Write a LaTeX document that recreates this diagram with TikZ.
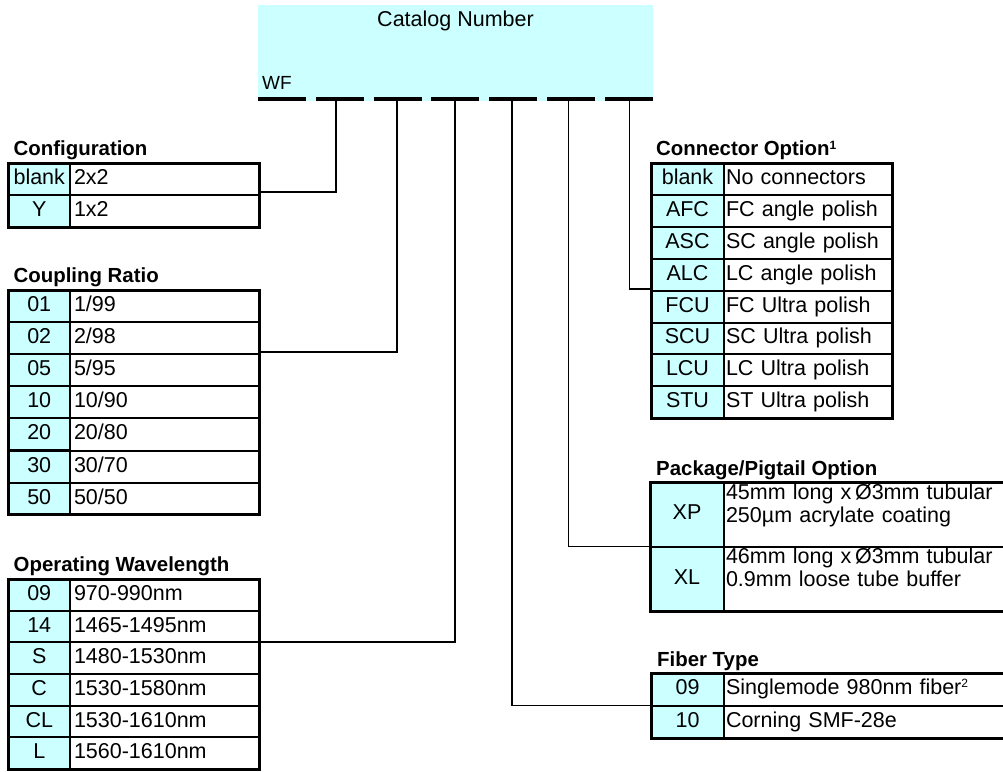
\documentclass[tikz,border=0pt]{standalone}
\usepackage{fontspec}
\setmainfont{Liberation Sans}
\definecolor{cellcyan}{HTML}{CCFFFF}

\begin{document}
\begin{tikzpicture}[x=1pt,y=-1pt,
  rowcell/.style={draw, line width=2pt, outer sep=0pt, inner ysep=0pt,
    minimum height=#1, text height=15.5pt, text depth=4.5pt, anchor=north west,
    font=\fontsize{21.5}{23}\selectfont},
  codecell/.style={rowcell=32pt, fill=cellcyan, inner xsep=0pt},
  desccell/.style={rowcell=32pt, fill=white, inner xsep=4pt, text width=#1, align=left},
  frame/.style={draw, line width=3pt},
  heading/.style={anchor=base west, inner sep=0pt, font=\bfseries\fontsize{20.4}{24}\selectfont},
  link/.style={line width=1.8pt}]
  \useasboundingbox (0,0) rectangle (1003,771);
  \clip (0,0) rectangle (1003,771);

  \node[fill=cellcyan, minimum width=395pt, minimum height=95.5pt, anchor=north west,
    inner sep=0pt, outer sep=0pt] (catalog) at (258,5) {};
  \node[anchor=base, font=\fontsize{21.5}{23}\selectfont] (catname) at (455.5,27) {Catalog Number};
  \node[anchor=base west, inner sep=0pt, font=\fontsize{19}{23}\selectfont] (prefix) at (262,89.3) {WF};
  \draw[line width=4pt, dash pattern=on 48pt off 9.83pt]
    ([yshift=2pt]catalog.south west) -- ([yshift=2pt]catalog.south east);
  \foreach \x [count=\i from 2] in {336,397,455,512,568.5,629.5}
    \coordinate (slot\i) at (\x,100.5);

  % configuration
  \foreach \code/\desc [count=\i] in {blank/2x2, Y/1x2}{
    \node[codecell, minimum width=61.5pt] (cfgc\i) at (8.5,{163+32*(\i-1)}) {\code};
    \node[desccell=181pt] (cfgd\i) at (cfgc\i.north east) {\desc};
  }
  \draw[frame] (cfgc1.north west) rectangle (cfgd2.south east);
  \node[heading] (cfgtitle) at ([shift={(5pt,7.5pt)}]cfgc1.north west) {Configuration};

  % coupling ratio
  \foreach \code/\desc [count=\i] in {01/{1/99}, 02/{2/98}, 05/{5/95}, 10/{10/90},
      20/{20/80}, 30/{30/70}, 50/{50/50}}{
    \node[codecell, minimum width=61.5pt] (cprc\i) at (8.5,{290+32.1*(\i-1)}) {\code};
    \node[desccell=181pt, minimum height=32.1pt] (cprd\i) at (cprc\i.north east) {\desc};
  }
  \draw[frame] (cprc1.north west) rectangle (cprd7.south east);
  \node[heading] (cprtitle) at ([shift={(5pt,7.5pt)}]cprc1.north west) {Coupling Ratio};

  % operating wavelength
  \foreach \code/\desc [count=\i] in {09/970-990nm, 14/1465-1495nm, S/1480-1530nm,
      C/1530-1580nm, CL/1530-1610nm, L/1560-1610nm}{
    \node[codecell, minimum width=61.5pt, minimum height=31.67pt] (wvlc\i) at (8.5,{579+31.67*(\i-1)}) {\code};
    \node[desccell=181pt, minimum height=31.67pt] (wvld\i) at (wvlc\i.north east) {\desc};
  }
  \draw[frame] (wvlc1.north west) rectangle (wvld6.south east);
  \node[heading] (wvltitle) at ([shift={(5pt,7.5pt)}]wvlc1.north west) {Operating Wavelength};

  % connector option
  \foreach \code/\desc [count=\i] in {blank/No connectors, AFC/FC angle polish,
      ASC/SC angle polish, ALC/LC angle polish, FCU/FC Ultra polish,
      SCU/SC Ultra polish, LCU/LC Ultra polish, STU/ST Ultra polish}{
    \node[codecell, minimum width=73pt, minimum height=31.9pt] (conc\i) at (651,{163+31.9*(\i-1)}) {\code};
    \node[desccell=164pt, inner xsep=2pt, minimum height=31.9pt] (cond\i) at (conc\i.north east) {\desc};
  }
  \draw[frame] (conc1.north west) rectangle (cond8.south east);
  \node[heading] (contitle) at ([shift={(5pt,7.5pt)}]conc1.north west)
    {Connector Option\raisebox{6.5pt}{\fontsize{12}{12}\selectfont 1}};

  % package / pigtail option
  \node[codecell, minimum width=74pt, minimum height=64.5pt] (pkgc1) at (650,482) {XP};
  \node[desccell=286pt, inner xsep=2pt, minimum height=64.5pt, text height=17pt, text depth=47.5pt] (pkgd1)
    at (pkgc1.north east) {45mm long x\,Ø3mm tubular\\250µm acrylate coating};
  \node[codecell, minimum width=74pt, minimum height=64.5pt] (pkgc2) at (pkgc1.south west) {XL};
  \node[desccell=286pt, inner xsep=2pt, minimum height=64.5pt, text height=17pt, text depth=47.5pt] (pkgd2)
    at (pkgc2.north east) {46mm long x\,Ø3mm tubular\\0.9mm loose tube buffer};
  \draw[frame] (pkgc1.north west) rectangle (pkgd2.south east);
  \node[heading] (pkgtitle) at ([shift={(6pt,7pt)}]pkgc1.north west) {Package/Pigtail Option};

  % fiber type
  \node[codecell, minimum width=73pt, minimum height=32.5pt] (fibc1) at (651,673) {09};
  \node[desccell=286pt, inner xsep=2pt, minimum height=32.5pt] (fibd1) at (fibc1.north east)
    {Singlemode 980nm fiber\raisebox{7pt}{\fontsize{12}{12}\selectfont 2}};
  \node[codecell, minimum width=73pt, minimum height=32.5pt] (fibc2) at (fibc1.south west) {10};
  \node[desccell=286pt, inner xsep=2pt, minimum height=32.5pt] (fibd2) at (fibc2.north east)
    {Corning SMF-28e};
  \draw[frame] (fibc1.north west) rectangle (fibd2.south east);
  \node[heading] (fibtitle) at ([shift={(6pt,6.5pt)}]fibc1.north west) {Fiber Type};

  \draw[link] (slot2) |- ([yshift=3pt]cfgd1.south east);
  \draw[link] (slot3) |- ([yshift=2pt]cprd2.south east);
  \draw[link] (slot4) |- (wvld2.south east);
  \draw[link] (slot5) |- (fibc1.south west);
  \draw[link] (slot6) |- (pkgc1.south west);
  \draw[link] (slot7) |- ([yshift=2pt]conc4.south west);
\end{tikzpicture}
\end{document}
